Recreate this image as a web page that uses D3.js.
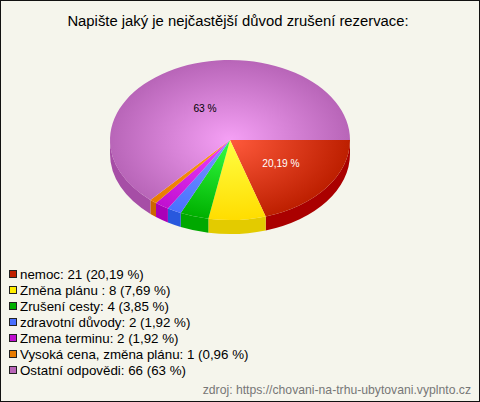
<!DOCTYPE html>
<html><head><meta charset="utf-8">
<script src="https://cdn.jsdelivr.net/npm/d3@7"></script>
<style>html,body{margin:0;padding:0;background:#f5f5ec}svg{display:block}text{font-family:"Liberation Sans",Arial,sans-serif}</style>
</head><body><svg id="c" width="480" height="402"></svg>
<script>
const categories=["nemoc","Změna plánu ","Zrušení cesty","zdravotní důvody","Zmena terminu","Vysoká cena, změna plánu","Ostatní odpovědi"];
const values=[21,8,4,2,2,1,66];
const percents=["20,19","7,69","3,85","1,92","1,92","0,96","63"];
const topInner=["#ff5a3c","#ffff44","#33ff44","#7799ff","#f040ff","#ff9a10","#f5a0f5"];
const topOuter=["#bd1f00","#ffdd00","#00b000","#4a70ff","#c010d0","#e87b00","#b865b8"];
const sideColors=["#aa0000","#e3cb00","#00a800","#2858dd","#aa00b8","#cc6600","#a64ea6"];
const legendColors=["#c02000","#ffee00","#00b000","#4a70ff","#c010d0","#e87b00","#b865b8"];
const sliceLabels=[{i:0,text:"20,19 %",fill:"#fff",dx:51,dy:27},{i:6,text:"63 %",fill:"#000",dx:-25,dy:-28}];
const title="Napište jaký je nejčastější důvod zrušení rezervace:";
const source="zdroj: https://chovani-na-trhu-ubytovani.vyplnto.cz";

const svg=d3.select("#c");
const W=480,H=402,cx=230,cy=140,rx=120,ry=80,depth=14;
svg.append("rect").attr("x",.5).attr("y",.5).attr("width",W-1).attr("height",H-1).attr("fill","#f5f5ec").attr("stroke","#111");
svg.append("text").attr("x",238).attr("y",26).attr("text-anchor","middle").attr("font-size",14.83).attr("fill","#000").text(title);

const pie=d3.pie().sort(null).startAngle(Math.PI/2).endAngle(Math.PI*2.5);
const arcs=pie(values);
const px=a=>cx+rx*Math.sin(a), py=a=>cy-ry*Math.cos(a);
const defs=svg.append("defs");
arcs.forEach((d,i)=>{
  const g=defs.append("radialGradient").attr("id","g"+i).attr("gradientUnits","userSpaceOnUse")
    .attr("cx",0).attr("cy",0).attr("r",rx);
  g.append("stop").attr("offset",0).attr("stop-color",topInner[i]);
  g.append("stop").attr("offset",1).attr("stop-color",topOuter[i]);
});
const side=svg.append("g");
arcs.forEach((d,i)=>{
  const a0=Math.max(d.startAngle,Math.PI/2),a1=Math.min(d.endAngle,Math.PI*1.5);
  if(a1<=a0)return;
  const p=`M${px(a0)},${py(a0)}A${rx},${ry} 0 0 1 ${px(a1)},${py(a1)}L${px(a1)},${py(a1)+depth}A${rx},${ry} 0 0 0 ${px(a0)},${py(a0)+depth}Z`;
  side.append("path").attr("d",p).attr("fill",sideColors[i]);
});
const arc=d3.arc().innerRadius(0).outerRadius(rx);
svg.append("g").attr("transform",`translate(${cx},${cy}) scale(1,${ry/rx})`)
  .selectAll("path").data(arcs).join("path").attr("d",arc).attr("fill",(d,i)=>`url(#g${i})`);
svg.selectAll(".sl").data(sliceLabels).join("text").attr("class","sl")
  .attr("x",d=>cx+d.dx).attr("y",d=>cy+d.dy).attr("text-anchor","middle").attr("font-size",10.2).attr("fill",d=>d.fill).text(d=>d.text);

const y=d3.scalePoint().domain(d3.range(categories.length)).range([274,370]);
const lg=svg.append("g").selectAll("g").data(categories).join("g").attr("transform",(d,i)=>`translate(0,${y(i)})`);
lg.append("rect").attr("x",9.5).attr("y",-3.5).attr("width",7).attr("height",7).attr("fill",(d,i)=>legendColors[i]).attr("stroke","#222");
lg.append("text").attr("x",20).attr("y",5).attr("font-size",13.33).attr("fill","#000").text((d,i)=>`${d}: ${values[i]} (${percents[i]} %)`);
svg.append("text").attr("x",471).attr("y",394).attr("text-anchor","end").attr("font-size",12.2).attr("fill","#777").text(source);
</script></body></html>
